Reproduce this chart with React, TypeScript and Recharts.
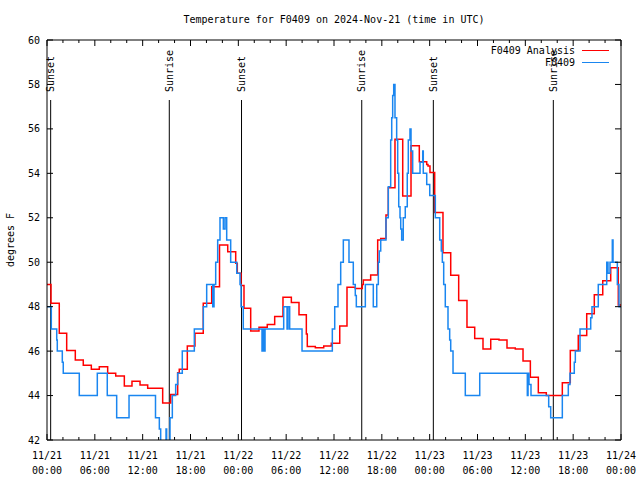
import React from 'react';
import { LineChart, Line, XAxis, YAxis, ReferenceLine } from 'recharts';

const FONT = '"DejaVu Sans Mono", "Liberation Mono", monospace';

// hours since 11/21 00:00 UTC, step values
const analysisHours = [
  0, 0.5, 1.54, 2.47, 3.55, 4.55, 5.56, 6.56, 7.61, 8.62, 9.7, 10.66, 11.67, 12.63, 14.51,
  15.52, 16.39, 16.59, 17.6, 18.56, 19.6, 20.66, 21.64, 22.67, 23.67, 23.87, 24.34, 24.71,
  25.55, 26.59, 27.63, 28.56, 29.6, 30.65, 31.61, 32.53, 32.65, 33.66, 34.71, 35.66, 36.72,
  37.63, 38.67, 39.55, 39.68, 40.6, 41.48, 41.86, 42.52, 42.81, 43.65, 44.62, 45.66, 46.7,
  47.63, 47.79, 48.04, 48.63, 49.67, 50.64, 51.64, 52.68, 53.65, 54.69, 55.66, 56.7, 57.7,
  58.74, 59.71, 60.63, 61.63, 62.63, 64.64, 65.64, 66.64, 67.7, 68.65, 69.71, 70.71, 71.66, 72,
];
const analysisTemps = [
  49.0, 48.15, 46.8, 46.03, 45.6, 45.36, 45.18, 45.3, 45.0, 44.88, 44.43, 44.64, 44.47, 44.33, 43.66,
  44.05, 45.03, 45.18, 46.23, 46.8, 48.15, 48.9, 50.78, 50.47, 49.95, 49.5, 48.95, 47.93,
  46.9, 47.07, 47.2, 47.56, 48.42, 48.19, 47.64, 46.77, 46.21, 46.15, 46.23, 46.35, 47.13,
  48.87, 48.82, 49.0, 49.2, 49.42, 51.0, 51.07, 52.12, 53.35, 55.53, 52.98, 55.24, 54.52,
  54.4, 54.33, 54.04, 52.24, 50.43, 49.41, 48.28, 47.07, 46.57, 46.09, 46.53, 46.5, 46.14,
  46.09, 45.55, 44.82, 44.13, 44.0, 44.58, 46.03, 46.7, 47.68, 48.54, 49.17, 49.75, 48.07, 48.07,
];

const obsHours = [
  0, 0.54, 1.22, 1.29, 1.92, 2.04, 4.05, 6.31, 7.56, 8.74, 10.29, 13.61, 14.09, 14.26, 14.93,
  15.01, 15.43, 15.72, 16.14, 16.39, 16.97, 18.48, 19.61, 20.03, 20.79, 20.95, 21.16, 21.41,
  21.7, 22.12, 22.33, 22.54, 23.04, 23.8, 24.21, 24.34, 24.62, 26.97, 27.09, 27.22, 27.35,
  29.69, 30.11, 30.23, 30.44, 31.99, 35.79, 36.09, 36.5, 36.84, 37.17, 37.88, 38.42, 38.67,
  38.8, 39.93, 40.93, 41.36, 41.56, 41.68, 41.86, 42.52, 42.81, 43.11, 43.24, 43.36, 43.49,
  43.65, 43.86, 43.99, 44.12, 44.28, 44.37, 44.49, 44.69, 44.94, 45.19, 45.32, 45.53, 45.66,
  45.87, 46.79, 47.13, 47.2, 47.63, 48.01, 48.71, 49.26, 49.46, 49.59, 49.76, 49.96, 50.3,
  50.51, 50.64, 50.93, 52.47, 54.28, 60.25, 60.34, 60.46, 60.71, 62.93, 63.18, 64.64, 65.39,
  65.6, 66.14, 66.27, 66.86, 68.2, 68.36, 69.15, 70.21, 70.37, 70.62, 70.91, 71.0, 71.54,
  71.75, 72,
];
const obsTemps = [
  48, 47, 46.5, 46, 45.5, 45, 44, 45, 44, 43, 44, 43, 42.5, 41, 42.5,
  41, 43, 44, 44.5, 45, 46, 47, 48, 49, 48, 49, 50, 51,
  52, 51.5, 52, 51, 50, 49.5, 49, 48, 47, 46, 47, 46, 47,
  48, 47, 48, 47, 46, 47, 48, 49, 50, 51, 50, 49, 48.5,
  48, 49, 48, 49, 50, 50.5, 51, 52, 53.4, 55.5, 56.5, 57.5, 58,
  56.5, 55.5, 54, 52.5, 52, 51.5, 51, 52, 52.5, 54, 55.5, 56, 55,
  54, 54.5, 55, 54, 53.5, 53, 52, 51, 50.5, 50, 49, 48, 47,
  46.5, 46, 45, 44, 45, 44, 45, 44.5, 44, 43.5, 43, 44, 44.5,
  45, 45.5, 46, 47, 47.5, 48, 49, 50, 49.5, 50, 51, 50, 49,
  48, 48,
];

const xTickHours = Array.from({ length: 37 }, (_, i) => i * 2);
const xTickDays = ['11/21', '11/21', '11/21', '11/21', '11/22', '11/22', '11/22', '11/22', '11/23', '11/23', '11/23', '11/23', '11/24'];
const xTickTimes = ['00:00', '06:00', '12:00', '18:00', '00:00', '06:00', '12:00', '18:00', '00:00', '06:00', '12:00', '18:00', '00:00'];
const yTicks = [42, 44, 46, 48, 50, 52, 54, 56, 58, 60];

const sunHours = [0.46, 15.34, 24.4, 39.48, 48.46, 63.51];
const sunNames = ['Sunset', 'Sunrise', 'Sunset', 'Sunrise', 'Sunset', 'Sunrise'];

const analysisData = analysisHours.map((h, i) => ({ h, t: analysisTemps[i] }));
const obsData = obsHours.map((h, i) => ({ h, t: obsTemps[i] }));

const series = [
  { name: 'F0409 Analysis', color: '#ff0000', data: analysisData },
  { name: 'F0409', color: '#1a86f0', data: obsData },
];

const BottomTick = (props: any) => {
  const { x, y, payload } = props;
  const major = payload.value % 6 === 0;
  const idx = payload.value / 6;
  return (
    <g>
      <line x1={x} y1={y} x2={x} y2={y - (major ? 6 : 3)} stroke="#000" />
      {major && (
        <text x={x} y={y} textAnchor="middle" fontFamily={FONT} fontSize={10} fill="#000">
          <tspan x={x} dy={18.5}>{xTickDays[idx]}</tspan>
          <tspan x={x} dy={15}>{xTickTimes[idx]}</tspan>
        </text>
      )}
    </g>
  );
};

const TopTick = (props: any) => {
  const { x, y, payload } = props;
  const major = payload.value % 6 === 0;
  return <line x1={x} y1={y} x2={x} y2={y + (major ? 6 : 3)} stroke="#000" />;
};

const LeftTick = (props: any) => {
  const { x, y, payload } = props;
  return (
    <g>
      <line x1={x} y1={y} x2={x + 6} y2={y} stroke="#000" />
      <text x={x - 7} y={y} dy="0.35em" textAnchor="end" fontFamily={FONT} fontSize={10} fill="#000">
        {payload.value}
      </text>
    </g>
  );
};

const RightTick = (props: any) => {
  const { x, y } = props;
  return <line x1={x} y1={y} x2={x - 6} y2={y} stroke="#000" />;
};

const SunLabel = (props: any) => {
  const vb = props.viewBox || {};
  const x = vb.x;
  const y = vb.y - 8;
  return (
    <text
      x={x}
      y={y}
      dy="0.35em"
      transform={`rotate(-90 ${x} ${y})`}
      textAnchor="start"
      fontFamily={FONT}
      fontSize={10}
      fill="#000"
    >
      {props.text}
    </text>
  );
};

const YLabel = (props: any) => {
  const vb = props.viewBox || {};
  const x = vb.x + 10;
  const y = vb.y + vb.height / 2;
  return (
    <text
      x={x}
      y={y}
      dy="0.35em"
      transform={`rotate(-90 ${x} ${y})`}
      textAnchor="middle"
      fontFamily={FONT}
      fontSize={10}
      fill="#000"
    >
      degrees F
    </text>
  );
};

export default function App() {
  return (
    <div style={{ position: 'absolute', left: 0, top: 0, width: 640, height: 480, background: '#fff' }}>
      <LineChart width={640} height={480} margin={{ top: 30, right: 9, bottom: 0, left: 0 }}>
        <XAxis
          xAxisId="bottom"
          dataKey="h"
          type="number"
          domain={[0, 72]}
          ticks={xTickHours}
          interval={0}
          allowDataOverflow
          height={40}
          tickSize={0}
          tickMargin={0}
          tickLine={false}
          axisLine={{ stroke: '#000' }}
          tick={<BottomTick />}
        />
        <XAxis
          xAxisId="top"
          orientation="top"
          dataKey="h"
          type="number"
          domain={[0, 72]}
          ticks={xTickHours}
          interval={0}
          allowDataOverflow
          height={10}
          tickSize={0}
          tickMargin={0}
          tickLine={false}
          axisLine={{ stroke: '#000' }}
          tick={<TopTick />}
        />
        <YAxis
          yAxisId="left"
          type="number"
          domain={[42, 60]}
          ticks={yTicks}
          interval={0}
          allowDataOverflow
          width={47}
          tickSize={0}
          tickMargin={0}
          tickLine={false}
          axisLine={{ stroke: '#000' }}
          tick={<LeftTick />}
          label={<YLabel />}
        />
        <YAxis
          yAxisId="right"
          orientation="right"
          type="number"
          domain={[42, 60]}
          ticks={yTicks}
          interval={0}
          allowDataOverflow
          width={10}
          tickSize={0}
          tickMargin={0}
          tickLine={false}
          axisLine={{ stroke: '#000' }}
          tick={<RightTick />}
        />
        {sunHours.map((h, i) => (
          <ReferenceLine
            key={`sun-${i}`}
            xAxisId="bottom"
            yAxisId="left"
            segment={[{ x: h, y: 57.3 }, { x: h, y: 42 }]}
            stroke="#000"
            strokeWidth={1}
            label={<SunLabel text={sunNames[i]} />}
          />
        ))}
        {series.map((s) => (
          <Line
            key={s.name}
            xAxisId="bottom"
            yAxisId="left"
            data={s.data}
            dataKey="t"
            name={s.name}
            type="stepAfter"
            stroke={s.color}
            strokeWidth={1.5}
            dot={false}
            activeDot={false}
            isAnimationActive={false}
          />
        ))}
      </LineChart>
      <div
        style={{
          position: 'absolute',
          left: 47,
          top: 13,
          width: 574,
          textAlign: 'center',
          fontFamily: FONT,
          fontSize: 10,
          lineHeight: '14px',
          color: '#000',
        }}
      >
        Temperature for F0409 on 2024-Nov-21 (time in UTC)
      </div>
      {series.map((s, i) => (
        <div
          key={s.name}
          style={{
            position: 'absolute',
            right: 640 - 609,
            top: 43 + i * 12,
            height: 14,
            display: 'flex',
            alignItems: 'center',
            fontFamily: FONT,
            fontSize: 10,
            color: '#000',
          }}
        >
          <span>{s.name}</span>
          <span style={{ display: 'inline-block', width: 27, marginLeft: 7, borderTop: `1.5px solid ${s.color}` }} />
        </div>
      ))}
    </div>
  );
}
